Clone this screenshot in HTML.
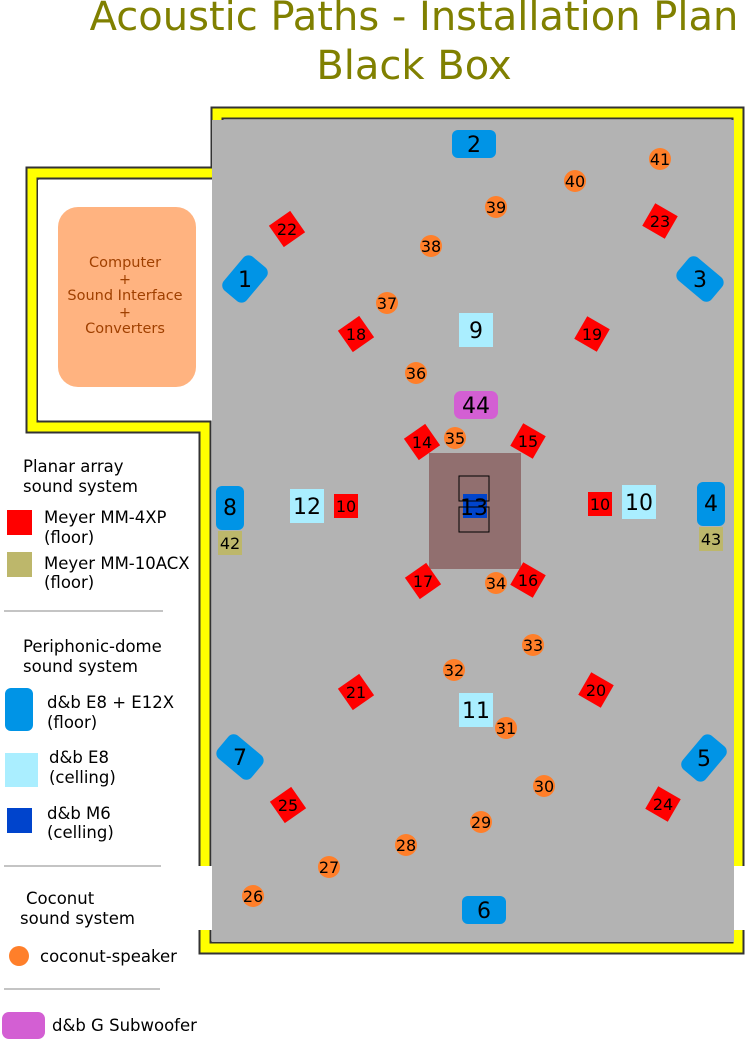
<!DOCTYPE html>
<html><head><meta charset="utf-8"><style>
html,body{margin:0;padding:0;background:#fff;width:745px;height:1040px;overflow:hidden}
svg{display:block;font-family:"DejaVu Sans","Liberation Sans",sans-serif}
</style></head><body>
<svg width="745" height="1040" viewBox="0 0 745 1040" xmlns="http://www.w3.org/2000/svg">
<g fill="none" stroke-linejoin="miter">
<path d="M205,866 L205,427 L32,427 L32,173 L217,173 L217,113 L738,113 L738,866" stroke="#333" stroke-width="13"/>
<polyline points="205,930 205,948 738,948 738,930" stroke="#333" stroke-width="13"/>
<path d="M205,866 L205,427 L32,427 L32,173 L217,173 L217,113 L738,113 L738,866" stroke="#ff0" stroke-width="9"/>
<polyline points="205,930 205,948 738,948 738,930" stroke="#ff0" stroke-width="9"/>
</g>
<rect x="38" y="180" width="175" height="240" fill="#fff"/>
<rect x="212" y="120" width="522" height="822" fill="#b3b3b3"/>
<rect x="58" y="207" width="138" height="180" rx="20" fill="#ffb380"/>
<g font-size="14.5" fill="#a04000" text-anchor="middle">
<text x="125" y="267">Computer</text><text x="125" y="284">+</text>
<text x="125" y="300">Sound Interface</text><text x="125" y="317">+</text>
<text x="125" y="333">Converters</text></g>
<text x="414" y="30" font-size="40" fill="#808000" text-anchor="middle">Acoustic Paths - Installation Plan</text>
<text x="414" y="79" font-size="40" fill="#808000" text-anchor="middle">Black Box</text>
<rect x="429" y="453" width="92" height="116" fill="#916f6f"/>
<rect x="463" y="494" width="24" height="24" fill="#0044cc"/>
<rect x="459" y="476" width="30" height="25" fill="none" stroke="#000" stroke-width="1"/>
<rect x="459" y="507" width="30" height="25" fill="none" stroke="#000" stroke-width="1"/>
<g font-size="22" text-anchor="middle" fill="#000">
<rect x="452" y="130" width="44" height="28" rx="6" fill="#0094e6"/><text x="474" y="152">2</text>
<rect x="462" y="896" width="44" height="28" rx="6" fill="#0094e6"/><text x="484" y="918">6</text>
<rect x="216" y="486" width="28" height="44" rx="6" fill="#0094e6"/><text x="230" y="515">8</text>
<rect x="697" y="482" width="28" height="44" rx="6" fill="#0094e6"/><text x="711" y="511">4</text>
<rect x="-22" y="-15" width="44" height="30" rx="7" fill="#0094e6" transform="translate(245,279) rotate(-50)"/><text x="245" y="287">1</text>
<rect x="-22" y="-15" width="44" height="30" rx="7" fill="#0094e6" transform="translate(700,279) rotate(40)"/><text x="700" y="287">3</text>
<rect x="-22" y="-15" width="44" height="30" rx="7" fill="#0094e6" transform="translate(240,757) rotate(40)"/><text x="240" y="765">7</text>
<rect x="-22" y="-15" width="44" height="30" rx="7" fill="#0094e6" transform="translate(704,758) rotate(-50)"/><text x="704" y="766">5</text>
<rect x="459" y="313" width="34" height="34" fill="#aaeeff"/><text x="476" y="338">9</text>
<rect x="290" y="489" width="34" height="34" fill="#aaeeff"/><text x="307" y="514">12</text>
<rect x="622" y="485" width="34" height="34" fill="#aaeeff"/><text x="639" y="510">10</text>
<rect x="459" y="693" width="34" height="34" fill="#aaeeff"/><text x="476" y="718">11</text>
<rect x="454" y="391" width="44" height="28" rx="7" fill="#d35fd3"/><text x="476" y="413">44</text>
<text x="474" y="515">13</text>
</g>
<g font-size="16" text-anchor="middle" fill="#000">
<g fill="#f00">
<rect x="-13" y="-13" width="26" height="26" transform="translate(287,229) rotate(-35)"/>
<rect x="-13" y="-13" width="26" height="26" transform="translate(660,221) rotate(30)"/>
<rect x="-13" y="-13" width="26" height="26" transform="translate(356,334) rotate(-35)"/>
<rect x="-13" y="-13" width="26" height="26" transform="translate(592,334) rotate(30)"/>
<rect x="-13" y="-13" width="26" height="26" transform="translate(422,442) rotate(-35)"/>
<rect x="-13" y="-13" width="26" height="26" transform="translate(528,441) rotate(30)"/>
<rect x="-13" y="-13" width="26" height="26" transform="translate(423,581) rotate(-35)"/>
<rect x="-13" y="-13" width="26" height="26" transform="translate(528,580) rotate(30)"/>
<rect x="-13" y="-13" width="26" height="26" transform="translate(356,692) rotate(-35)"/>
<rect x="-13" y="-13" width="26" height="26" transform="translate(596,690) rotate(30)"/>
<rect x="-13" y="-13" width="26" height="26" transform="translate(288,805) rotate(-35)"/>
<rect x="-13" y="-13" width="26" height="26" transform="translate(663,804) rotate(30)"/>
<rect x="334" y="494" width="24" height="24"/><rect x="588" y="492" width="24" height="24"/>
</g>
<text x="287" y="235">22</text><text x="660" y="227">23</text><text x="356" y="340">18</text><text x="592" y="340">19</text>
<text x="422" y="448">14</text><text x="528" y="447">15</text><text x="423" y="587">17</text><text x="528" y="586">16</text>
<text x="356" y="698">21</text><text x="596" y="696">20</text><text x="288" y="811">25</text><text x="663" y="810">24</text>
<text x="346" y="512">10</text><text x="600" y="510">10</text>
<rect x="218" y="531" width="24" height="24" fill="#bdb76b"/><text x="230" y="549">42</text>
<rect x="699" y="527" width="24" height="24" fill="#bdb76b"/><text x="711" y="545">43</text>
<g fill="#ff7f2a">
<circle cx="660" cy="159" r="11"/><circle cx="575" cy="181" r="11"/><circle cx="496" cy="207" r="11"/><circle cx="431" cy="246" r="11"/>
<circle cx="387" cy="303" r="11"/><circle cx="416" cy="373" r="11"/><circle cx="455" cy="438" r="11"/><circle cx="496" cy="583" r="11"/>
<circle cx="533" cy="645" r="11"/><circle cx="454" cy="670" r="11"/><circle cx="506" cy="728" r="11"/><circle cx="544" cy="786" r="11"/>
<circle cx="481" cy="822" r="11"/><circle cx="406" cy="845" r="11"/><circle cx="329" cy="867" r="11"/><circle cx="253" cy="896" r="11"/>
<circle cx="19" cy="956" r="10"/>
</g>
<text x="660" y="165">41</text><text x="575" y="187">40</text><text x="496" y="213">39</text><text x="431" y="252">38</text>
<text x="387" y="309">37</text><text x="416" y="379">36</text><text x="455" y="444">35</text><text x="496" y="589">34</text>
<text x="533" y="651">33</text><text x="454" y="676">32</text><text x="506" y="734">31</text><text x="544" y="792">30</text>
<text x="481" y="828">29</text><text x="406" y="851">28</text><text x="329" y="873">27</text><text x="253" y="902">26</text>
</g>
<g font-size="16.5" fill="#000">
<text x="23" y="472">Planar array</text><text x="23" y="492">sound system</text>
<rect x="7" y="510" width="25" height="25" fill="#f00"/>
<text x="44" y="523">Meyer MM-4XP</text><text x="44" y="543">(floor)</text>
<rect x="7" y="552" width="25" height="25" fill="#bdb76b"/>
<text x="44" y="569">Meyer MM-10ACX</text><text x="44" y="588">(floor)</text>
<line x1="4" y1="611" x2="163" y2="611" stroke="#888" stroke-width="1"/>
<text x="23" y="652">Periphonic-dome</text><text x="23" y="672">sound system</text>
<rect x="5" y="688" width="28" height="43" rx="6" fill="#0094e6"/>
<text x="47" y="708">d&amp;b E8 + E12X</text><text x="47" y="728">(floor)</text>
<rect x="5" y="753" width="33" height="34" fill="#aaeeff"/>
<text x="49" y="763">d&amp;b E8</text><text x="49" y="783">(celling)</text>
<rect x="7" y="808" width="25" height="25" fill="#0044cc"/>
<text x="47" y="819">d&amp;b M6</text><text x="47" y="838">(celling)</text>
<line x1="4" y1="866" x2="161" y2="866" stroke="#888" stroke-width="1"/>
<text x="26" y="904">Coconut</text><text x="20" y="924">sound system</text>
<text x="40" y="962">coconut-speaker</text>
<line x1="4" y1="989" x2="160" y2="989" stroke="#888" stroke-width="1"/>
<rect x="2" y="1012" width="43" height="27" rx="7" fill="#d35fd3"/>
<text x="52" y="1031">d&amp;b G Subwoofer</text>
</g>
</svg>
</body></html>
